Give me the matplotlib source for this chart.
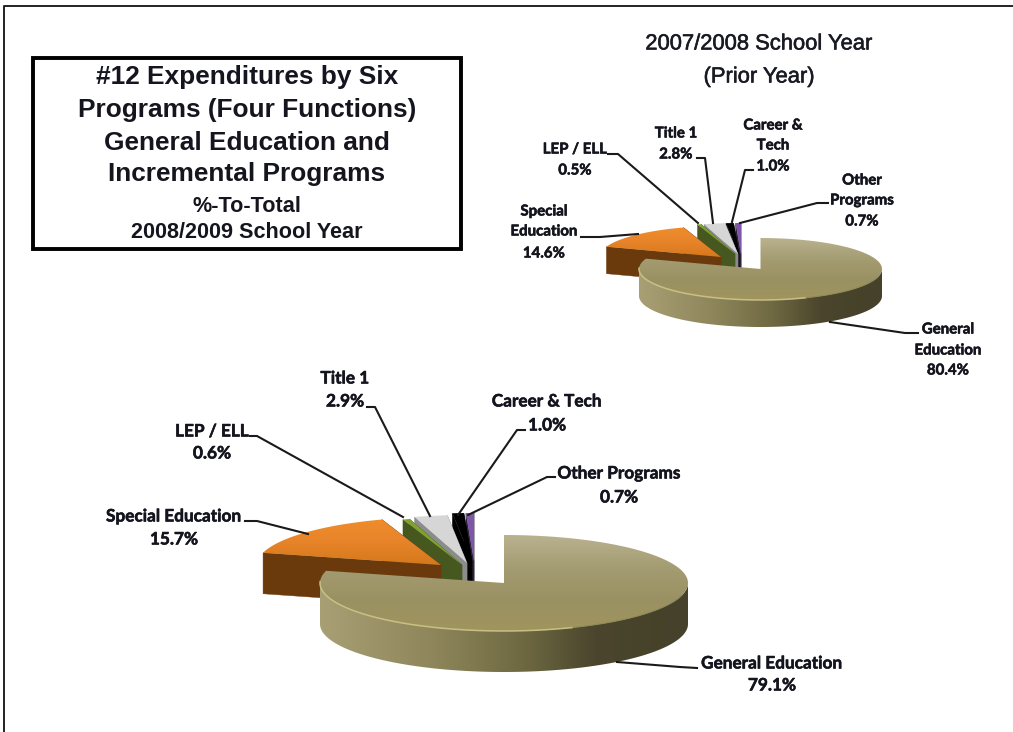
import numpy as np
import matplotlib
matplotlib.use("Agg")
import matplotlib.pyplot as plt
import matplotlib.patheffects as pe
from matplotlib.colors import LinearSegmentedColormap
from matplotlib.patches import Polygon, Rectangle

# Share of expenditure by program, in percent
programs = ["General Education", "Special Education", "LEP / ELL", "Title 1", "Career & Tech", "Other Programs"]
share_2008_09 = [79.1, 15.7, 0.6, 2.9, 1.0, 0.7]
share_2007_08 = [80.4, 14.6, 0.5, 2.8, 1.0, 0.7]

TOP_COLORS = ["#B0A97F", "#EC8A28", "#7FA32E", "#D6D6D6", "#000000", "#7D56A6"]
SIDE_COLORS = ["#8D8559", "#6B3A0C", "#46581F", "#8C8C8C", "#000000", "#2E2238"]

OLIVE_TOP = LinearSegmentedColormap.from_list("olive_top", ["#B9B28F", "#A49C72", "#9A9163", "#A0955E"])
OLIVE_SIDE = LinearSegmentedColormap.from_list(
    "olive_side", [(0, "#A8A074"), (0.3, "#8F875B"), (0.55, "#6F6942"), (0.75, "#4A452C"), (1, "#45412A")])
ORANGE_TOP = LinearSegmentedColormap.from_list("orange_top", ["#EF8E2C", "#E8842A", "#D5781C"])

fig = plt.figure(figsize=(10.13, 7.32), dpi=100, facecolor="white")
ax = fig.add_axes([0, 0, 1, 1])
ax.set_xlim(0, 1013)
ax.set_ylim(732, 0)
ax.axis("off")


def arc(cx, cy, a, b, t1, t2, n=160):
    t = np.radians(np.linspace(t1, t2, n))
    return np.column_stack([cx + a * np.cos(t), cy - b * np.sin(t)])


def gradient_fill(points, cmap, vertical, span, z):
    """Fill a polygon with a gradient running over span along one axis."""
    patch = Polygon(points, closed=True, fc="none", ec="none", transform=ax.transData)
    ax.add_patch(patch)
    ramp = np.linspace(0, 1, 256)
    xs, ys = points[:, 0], points[:, 1]
    if vertical:
        # First row sits at the upper end of the span on screen
        image, extent, origin = ramp[:, None], (xs.min() - 1, xs.max() + 1, span[1], span[0]), "upper"
    else:
        image, extent, origin = ramp[None, :], (span[0], span[1], ys.max() + 1, ys.min() - 1), "lower"
    img = ax.imshow(image, cmap=cmap, extent=extent, origin=origin,
                    aspect="auto", zorder=z, interpolation="bilinear", vmin=0, vmax=1)
    img.set_clip_path(patch)
    ax.set_xlim(0, 1013)
    ax.set_ylim(732, 0)


def draw_pie(values, centers, a, b, depth):
    """Extruded pie running clockwise from twelve o'clock; each slice has its own centre."""
    total = sum(values)
    starts = 90 - np.cumsum([0] + list(values))[:-1] / total * 360
    ends = starts - np.array(values) / total * 360
    # Painter's order: the small back slices first, General Education last
    for z, i in enumerate([5, 4, 3, 2, 1, 0]):
        cx, cy = centers[i]
        t1, t2 = starts[i], ends[i]
        zb = 3 + z * 3
        edge = arc(cx, cy, a, b, t1, t2)
        top = np.vstack([[cx, cy], edge])
        if i == 0:
            # Front wall of the large slice, shaded from left to right
            front = arc(cx, cy, a, b, 180, 360)
            wall = np.vstack([front, (front + [0, depth])[::-1]])
            gradient_fill(wall, OLIVE_SIDE, False, (cx - a, cx + a), zb)
            gradient_fill(top, OLIVE_TOP, True, (cy - b, cy + b), zb + 1)
            rim = arc(cx, cy, a, b, 178, 292)
            ax.plot(rim[:, 0], rim[:, 1], color="#C9BF85", lw=1.1, zorder=zb + 2, solid_capstyle="round")
            rim2 = arc(cx, cy, a, b, 292, 345)
            ax.plot(rim2[:, 0], rim2[:, 1], color="#8F8758", lw=0.8, zorder=zb + 2)
            continue
        for t in (t1, t2):
            end = arc(cx, cy, a, b, t, t, 1)[0]
            quad = np.array([[cx, cy], end, end + [0, depth], [cx, cy + depth]])
            ax.add_patch(Polygon(quad, closed=True, fc=SIDE_COLORS[i], ec=SIDE_COLORS[i], lw=0.3, zorder=zb))
        if i == 1:
            gradient_fill(top, ORANGE_TOP, True, (cy - b, cy), zb + 1)
        else:
            ax.add_patch(Polygon(top, closed=True, fc=TOP_COLORS[i], ec="none", zorder=zb + 1))


def leader(points):
    xs, ys = zip(*points)
    ax.plot(xs, ys, color="#1A1A1A", lw=1.5, zorder=30, solid_joinstyle="round")


def label(x, ys, lines, size):
    for y, line in zip(ys, lines):
        t = ax.text(x, y + 1.5, line, ha="center", va="center", fontsize=size, fontweight="bold",
                    family="Lato", color="#14141E", zorder=31)
        t.set_path_effects([pe.withStroke(linewidth=0.4, foreground="#14141E")])


# Slice centres for the current year, General Education first
draw_pie(share_2008_09,
         [(504, 583), (441, 565), (462, 565), (467, 563), (472, 561), (474, 561)],
         a=184, b=48, depth=41)

# Slice centres for the prior year
draw_pie(share_2007_08,
         [(760.5, 269), (721, 257), (735, 254), (738, 254), (739, 254), (741, 254)],
         a=121.5, b=31, depth=27)

# Callouts for the current year
LOWER = 12.4
label(174, [515, 538], [programs[1], f"{share_2008_09[1]}%"], LOWER)
leader([(245, 521), (257, 521), (308, 534)])
label(212, [430, 452], [programs[2], f"{share_2008_09[2]}%"], LOWER)
leader([(250, 436), (257, 436), (403, 517)])
label(345, [377, 400], [programs[3], f"{share_2008_09[3]}%"], LOWER)
leader([(367, 407), (375, 407), (430, 516)])
label(547, [400, 424], [programs[4], f"{share_2008_09[4]}%"], LOWER)
leader([(525, 430), (517, 430), (458, 515)])
label(619, [472, 496], [programs[5], f"{share_2008_09[5]}%"], LOWER)
leader([(555, 477), (547, 477), (468, 515)])
label(772, [662, 684], [programs[0], f"{share_2008_09[0]}%"], LOWER)
leader([(697, 668), (680, 667), (617, 662)])

# Callouts for the prior year
UPPER = 10.8
label(544, [210, 230, 252], ["Special", "Education", f"{share_2007_08[1]}%"], UPPER)
leader([(581, 237), (600, 237), (638, 234)])
label(575, [148, 169], [programs[2], f"{share_2007_08[2]}%"], UPPER)
leader([(608, 154), (618, 154), (698, 223)])
label(676, [132, 153], [programs[3], f"{share_2007_08[3]}%"], UPPER)
leader([(697, 158), (705, 158), (713, 223)])
label(773, [124, 144, 165], ["Career &", "Tech", f"{share_2007_08[4]}%"], UPPER)
leader([(753, 170), (745, 170), (732, 222)])
label(862, [179, 199, 220], ["Other", "Programs", f"{share_2007_08[5]}%"], UPPER)
leader([(828, 203), (817, 203), (740, 223)])
label(948, [328, 349, 369], ["General", "Education", f"{share_2007_08[0]}%"], UPPER)
leader([(918, 333), (905, 333), (830, 322)])

# Page frame, open at the right and bottom
ax.plot([4, 4, 1013], [732, 6, 6], color="#222222", lw=1.4, zorder=1)

# Title box
ax.add_patch(Rectangle((33, 58), 428, 191, fc="white", ec="#000000", lw=2.8, zorder=2))
title_lines = [("#12 Expenditures by Six", 77, 18.9), ("Programs (Four Functions)", 110, 18.9),
               ("General Education and", 143, 18.9), ("Incremental Programs", 174, 18.9),
               ("%-To-Total", 206, 15.6), ("2008/2009 School Year", 233, 15.6)]
for text, y, size in title_lines:
    ax.text(247, y, text, ha="center", va="center", fontsize=size, fontweight="bold",
            family="Liberation Sans", color="#15151F", zorder=3)

# Heading of the prior-year pie
for text, y in [("2007/2008 School Year", 44), ("(Prior Year)", 77)]:
    t = ax.text(759, y, text, ha="center", va="center", fontsize=15.8, family="Liberation Sans",
                color="#1A1A24", zorder=3)
    t.set_path_effects([pe.withStroke(linewidth=0.4, foreground="#1A1A24")])

fig.savefig("out.png", dpi=100, facecolor="white")
